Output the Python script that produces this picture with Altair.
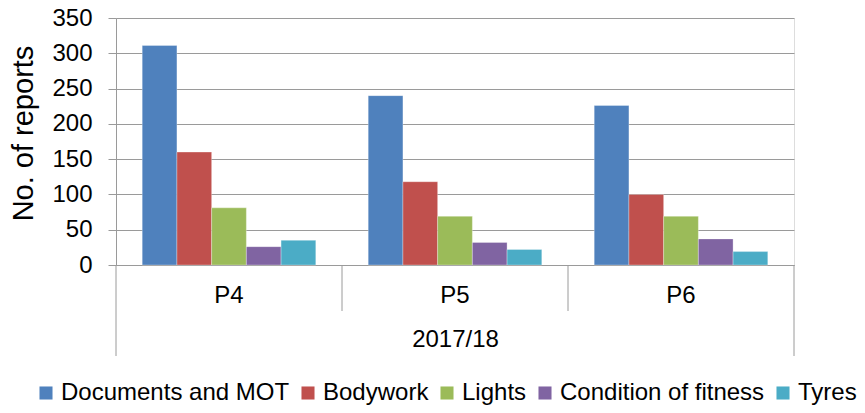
import altair as alt
import pandas as pd

periods = ["P4", "P5", "P6"]
series = ["Documents and MOT", "Bodywork", "Lights", "Condition of fitness", "Tyres"]
documents_mot = [311, 240, 226]
bodywork = [160, 118, 100]
lights = [81, 69, 69]
condition_fitness = [26, 32, 37]
tyres = [35, 22, 19]
colors = ["#4F81BD", "#C0504D", "#9BBB59", "#8064A2", "#4BACC6"]
year_label = "2017/18"
y_ticks = [0, 50, 100, 150, 200, 250, 300, 350]

values_by_series = [documents_mot, bodywork, lights, condition_fitness, tyres]
rows = []
for i, p in enumerate(periods):
    for s, vals in zip(series, values_by_series):
        rows.append({"period": p, "series": s, "value": vals[i]})
df = pd.DataFrame(rows)
df_periods = pd.DataFrame({"period": periods})

FONT = "Liberation Sans"
W, H = 678, 247
GRAY = "#9A9A9A"

x_scale = alt.Scale(domain=periods, paddingInner=0, paddingOuter=0)

bars = alt.Chart(df).mark_bar(stroke="#FFFFFF", strokeWidth=0.6, strokeOpacity=0.5).encode(
    x=alt.X("period:N", scale=x_scale, sort=periods,
            axis=alt.Axis(title=year_label, labelAngle=0, ticks=False, tickSize=0,
                          domainColor=GRAY, domainWidth=1,
                          labelFontSize=24, labelFont=FONT, labelColor="#000000",
                          labelPadding=18, titleFontSize=24, titleFont=FONT,
                          titleFontWeight="normal", titleColor="#000000",
                          titlePadding=20)),
    xOffset=alt.XOffset("series:N", sort=series,
                        scale=alt.Scale(domain=series, paddingInner=0, paddingOuter=0.755)),
    y=alt.Y("value:Q", scale=alt.Scale(domain=[0, 350], nice=False),
            axis=alt.Axis(values=y_ticks, title="No. of reports",
                          grid=True, gridColor=GRAY, gridWidth=1,
                          domainColor=GRAY, tickColor=GRAY, tickSize=8,
                          labelFontSize=24, labelFont=FONT, labelColor="#000000",
                          labelPadding=16,
                          titleFontSize=29, titleFont=FONT, titleFontWeight="normal",
                          titleColor="#000000", titleX=-93, titleY=115,
                          titleAngle=270, titleAlign="center", titleBaseline="middle")),
    color=alt.Color("series:N", sort=series,
                    scale=alt.Scale(domain=series, range=colors),
                    legend=alt.Legend(title=None, orient="none", direction="horizontal",
                                      legendX=-82, legendY=363,
                                      symbolType="square", symbolSize=170,
                                      symbolStrokeWidth=0,
                                      labelFontSize=24, labelFont=FONT, labelLimit=500,
                                      labelColor="#000000", labelOffset=3,
                                      columnPadding=6, columns=5)),
)

inner_sep = alt.Chart(df_periods).transform_filter(
    alt.FieldOneOfPredicate(field="period", oneOf=periods[1:])
).mark_rule(color=GRAY, strokeWidth=1).encode(
    x=alt.X("period:N", scale=x_scale, sort=periods, bandPosition=0),
    y=alt.value(H),
    y2=alt.value(H + 46),
)

left_edge = alt.Chart(df_periods).transform_filter(
    alt.FieldEqualPredicate(field="period", equal=periods[0])
).mark_rule(color=GRAY, strokeWidth=1).encode(
    x=alt.X("period:N", scale=x_scale, sort=periods, bandPosition=0),
    y=alt.value(H),
    y2=alt.value(H + 91),
)

right_edge = alt.Chart(df_periods).transform_filter(
    alt.FieldEqualPredicate(field="period", equal=periods[-1])
).mark_rule(color=GRAY, strokeWidth=1).encode(
    x=alt.X("period:N", scale=x_scale, sort=periods, bandPosition=1),
    y=alt.value(H),
    y2=alt.value(H + 91),
)

chart = alt.layer(bars, inner_sep, left_edge, right_edge).properties(
    width=W, height=H,
    autosize=alt.AutoSizeParams(type="none"),
    padding={"left": 108, "top": 10, "right": 63, "bottom": 140},
).configure_view(stroke=None).configure(background="#FFFFFF")

chart.save("out.html", embed_options={"renderer": "svg", "actions": False})
